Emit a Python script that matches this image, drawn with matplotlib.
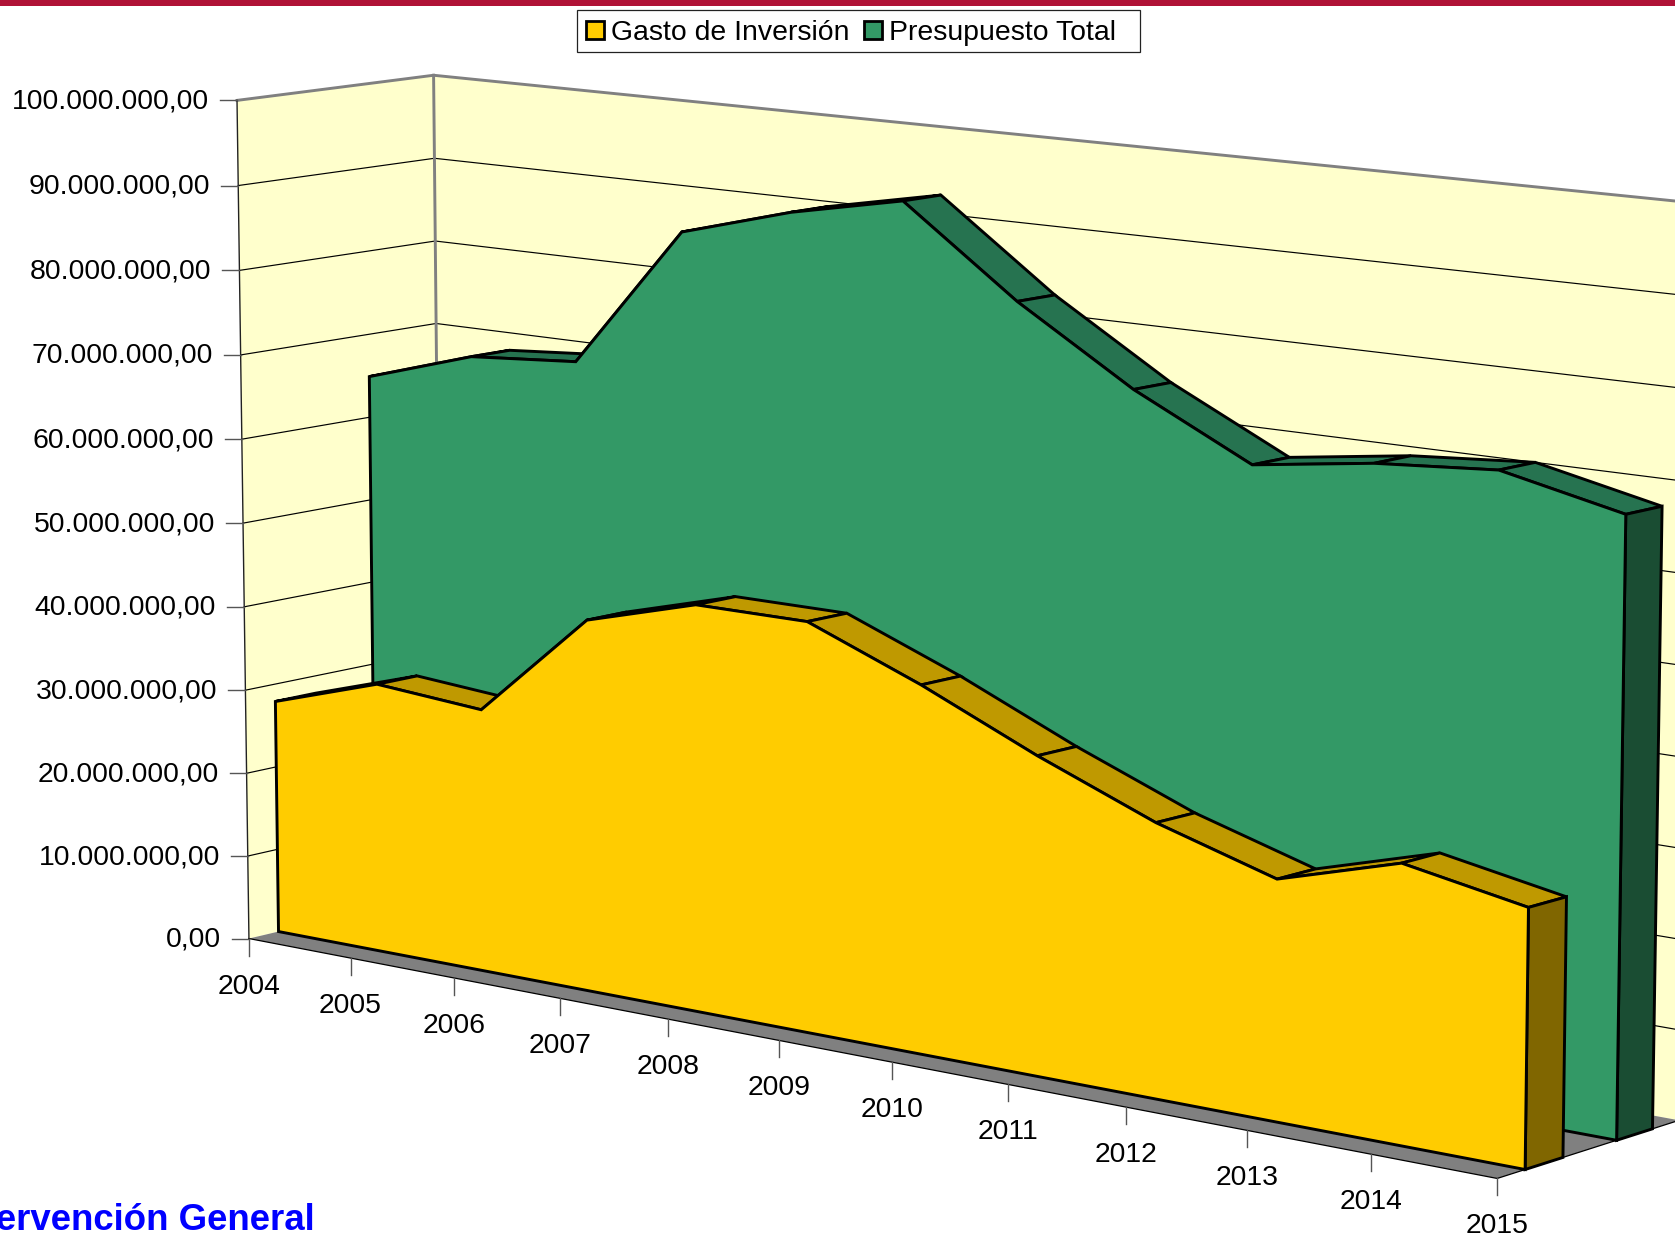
import numpy as np
import matplotlib
matplotlib.use("Agg")
import matplotlib.pyplot as plt
from matplotlib.patches import Polygon, Rectangle, Patch

plt.rcParams['font.family'] = ['Liberation Sans', 'DejaVu Sans']

# ---- data ----
years = ['2004','2005','2006','2007','2008','2009','2010','2011','2012','2013','2014','2015']
gasto_inversion = [27.9,32.0,31.0,43.5,47.2,47.2,42.0,36.1,30.8,26.8,30.8,28.3]   # millions
presupuesto_total = [64.9,68.9,69.9,86.6,90.3,93.0,83.1,74.8,68.1,70.0,71.0,68.0]  # millions
y_ticks = list(range(0, 101, 10))
y_labels = ['0,00','10.000.000,00','20.000.000,00','30.000.000,00','40.000.000,00','50.000.000,00',
            '60.000.000,00','70.000.000,00','80.000.000,00','90.000.000,00','100.000.000,00']
series_names = ['Gasto de Inversión', 'Presupuesto Total']

# ---- camera calibration of the 3D scale: (category, value, depth) -> canvas pixel ----
calib = [
    (0,0,0,249,938),(0,100,0,237.5,100),(0,100,1,434,75),(0,0,1,443,895),
    (0,90,0,238,185),(0,80,0,239,270),(0,70,0,240,355),(0,10,0,248,856),
    (0,90,1,434.5,159),(0,80,1,435,241),(0,70,1,436,324),
    (11,100,1,1693,201.8),(11,90,1,1691.7,294.7),(11,80,1,1690.3,388.5),(11,70,1,1689,481.4),(11,0,1,1680,1119),
    (11,100,0,1511,239),
    (1,0,0,351,958),(2,0,0,454,978),(3,0,0,560,998),(4,0,0,669,1019),(5,0,0,779,1040),
    (6,0,0,892,1062),(7,0,0,1007,1084),(8,0,0,1125,1107),(9,0,0,1247,1131),(10,0,0,1371,1155),(11,0,0,1497,1178),
    (0,0,.15,278,931),(11,0,.15,1525,1168),(11,0,.36,1563,1158),(11,0,.64,1617,1141),(11,0,.86,1653,1130),
]
A, b = [], []
for X, V, Z, u, v in calib:
    V = V / 100
    A.append([X,V,Z,1,0,0,0,0,-u*X,-u*V,-u*Z]); b.append(u)
    A.append([0,0,0,0,X,V,Z,1,-v*X,-v*V,-v*Z]); b.append(v)
p = np.linalg.lstsq(np.array(A, float), np.array(b, float), rcond=None)[0]
P = np.append(p, 1).reshape(3, 4)

def pr(X, V, Z):
    h = P @ np.array([X, V / 100, Z, 1.0])
    return (h[0] / h[2], h[1] / h[2])

fig = plt.figure(figsize=(16.75, 12.36), dpi=100, facecolor='white')
ax = fig.add_axes([0, 0, 1, 1])
ax.set_xlim(0, 1675); ax.set_ylim(1236, 0); ax.axis('off')

n = len(years) - 1
WALL, FLOOR, GRAY = '#FFFFCC', '#808080', '#808080'
LW = 2.1
FS = 20.4

# walls and floor
ax.add_patch(Polygon([pr(0,0,1), pr(n,0,1), pr(n,100,1), pr(0,100,1)], fc=WALL, ec='none', zorder=1))
ax.add_patch(Polygon([pr(0,0,0), pr(0,0,1), pr(0,100,1), pr(0,100,0)], fc=WALL, ec='none', zorder=1))
ax.add_patch(Polygon([pr(0,0,0), pr(n,0,0), pr(n,0,1), pr(0,0,1)], fc=FLOOR, ec='none', zorder=1))
for t in y_ticks[1:-1]:
    ax.plot(*zip(pr(0,t,0), pr(0,t,1), pr(n,t,1)), color='black', lw=0.85, zorder=2)
ax.plot(*zip(pr(0,100,0), pr(0,100,1), pr(n,100,1)), color=GRAY, lw=2.1, zorder=2)
ax.plot(*zip(pr(0,100,1), pr(0,0,1)), color=GRAY, lw=2.1, zorder=2)
ax.plot(*zip(pr(0,100,0), pr(0,0,0)), color='#222222', lw=1.0, zorder=2)
ax.plot(*zip(pr(0,0,0), pr(n,0,0), pr(n,0,1)), color='black', lw=0.9, zorder=2)

# y ticks and labels
for t, lab in zip(y_ticks, y_labels):
    x, y = pr(0, t, 0)
    ax.plot([x - 17, x], [y, y], color='#555555', lw=1.0, zorder=2)
    ax.text(x - 28, y + 1, lab, ha='right', va='center', fontsize=FS, color='black')

# x ticks and labels
for i, lab in enumerate(years):
    x, y = pr(i, 0, 0)
    ax.plot([x, x], [y, y + 17], color='#555555', lw=1.0, zorder=2)
    ax.text(x, y + 48, lab, ha='center', va='center', fontsize=FS, color='black')

def area3d(vals, z0, z1, face, top, side, zo):
    for i in range(n):
        ax.add_patch(Polygon([pr(i,vals[i],z0), pr(i+1,vals[i+1],z0), pr(i+1,vals[i+1],z1), pr(i,vals[i],z1)],
                             fc=top, ec='black', lw=LW, joinstyle='miter', zorder=zo))
    ax.add_patch(Polygon([pr(n,0,z0), pr(n,vals[n],z0), pr(n,vals[n],z1), pr(n,0,z1)],
                         fc=side, ec='black', lw=LW, joinstyle='miter', zorder=zo))
    pts = [pr(0,0,z0)] + [pr(i,vals[i],z0) for i in range(n+1)] + [pr(n,0,z0)]
    ax.add_patch(Polygon(pts, fc=face, ec='black', lw=LW, joinstyle='miter', zorder=zo+1))

area3d(presupuesto_total, .65, .85, '#339966', '#267350', '#1A4D33', 3)
area3d(gasto_inversion, .15, .355, '#FFCC00', '#BF9900', '#806600', 5)

# top bar and footer
ax.add_patch(Rectangle((0, 0), 1675, 6, fc='#B01236', ec='none', zorder=8))
ax.text(315, 1230, 'Intervención General', ha='right', va='baseline', fontsize=26.4,
        fontweight='bold', color='#0000FF', zorder=8)

# legend
ax.add_patch(Rectangle((577, 9.5), 563, 42, fc='white', ec='#222222', lw=0.9, zorder=8))
handles = [Patch(fc='#FFCC00', ec='black', lw=2), Patch(fc='#339966', ec='black', lw=2)]
leg = ax.legend(handles, series_names, loc='center left', bbox_to_anchor=(586, 33),
                bbox_transform=ax.transData, ncol=2, fontsize=FS, frameon=False,
                handlelength=0.62, handleheight=0.62,
                handletextpad=0.25, columnspacing=0.53, borderpad=0, borderaxespad=0)
leg.set_zorder(9)

fig.savefig('out.png', dpi=100)
